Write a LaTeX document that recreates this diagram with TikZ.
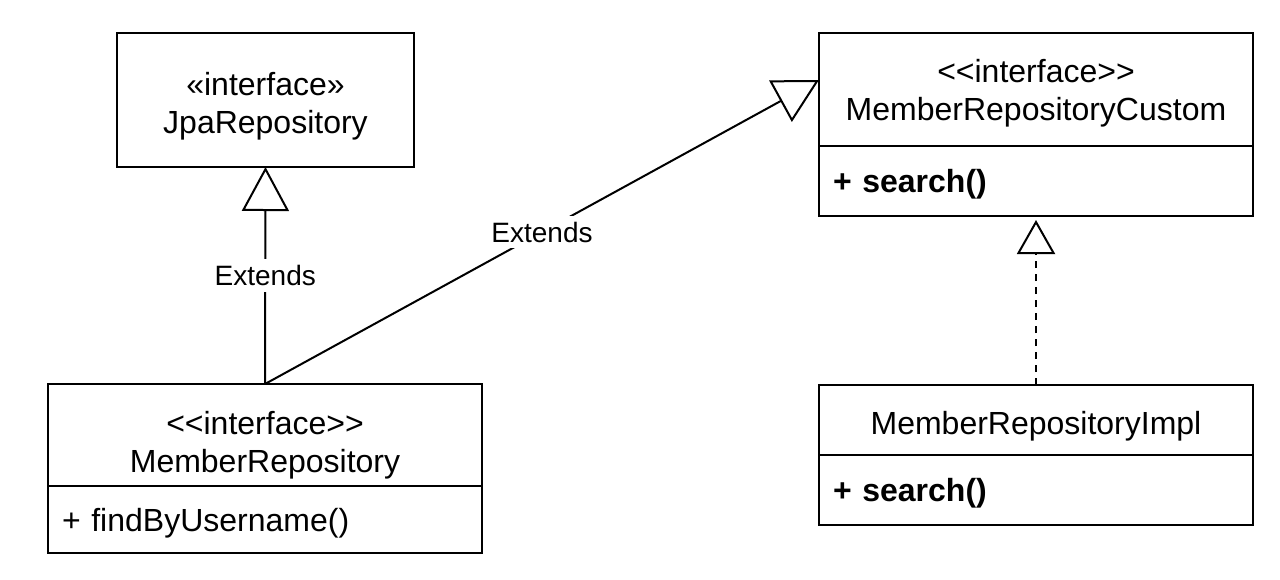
\documentclass[tikz,border=0pt]{standalone}
\usepackage{fontspec}
\setmainfont{Liberation Sans}
\usetikzlibrary{positioning,arrows.meta}
\newcommand{\stereo}{<\kern0pt<interface>\kern0pt>}
\newcommand{\hstrut}[1]{\rule{0pt}{#1}}

\begin{document}
\begin{tikzpicture}[x=0.5pt,y=-0.5pt, line width=1pt,
  font=\fontsize{16}{19}\selectfont,
  classhead/.style={draw, minimum width=217pt, align=center, inner sep=0pt, outer sep=0pt},
  classmeth/.style={draw, text width=203pt, align=left, inner xsep=7pt, inner ysep=0pt, outer sep=0pt},
  inherit/.style={-{Triangle[open,length=22pt,width=23.5pt]}},
  realize/.style={-{Triangle[open,length=17pt,width=19pt]}, dash pattern=on 3.5pt off 3pt},
  lbl/.style={fill=white, inner sep=3pt, font=\fontsize{14}{16}\selectfont}]
\path[use as bounding box, fill=white] (0,0) rectangle (1280,579);
% JpaRepository
\node[classhead, minimum width=148.5pt, minimum height=67pt] (jpa) at (265.5,100) {\hstrut{18pt}«interface»\\JpaRepository};
% MemberRepositoryCustom
\node[classhead, minimum height=56.5pt] (cushead) at (1036,89.5) {\hstrut{15.2pt}\stereo\\MemberRepositoryCustom};
\node[classmeth, minimum height=35pt, below=0pt of cushead] (cusmeth) {\hstrut{15pt}\textbf{+ search()}};
% MemberRepository
\node[classhead, minimum height=51pt] (memhead) at (265,435) {\hstrut{21.5pt}\stereo\\MemberRepository};
\node[classmeth, minimum height=33.5pt, below=0pt of memhead] (memmeth) {\hstrut{15pt}+ findByUsername()};
% MemberRepositoryImpl
\node[classhead, minimum height=35pt] (implhead) at (1036,420) {\hstrut{18.3pt}MemberRepositoryImpl};
\node[classmeth, minimum height=35pt, below=0pt of implhead] (implmeth) {\hstrut{15pt}\textbf{+ search()}};
% relations
\draw[inherit] (memhead.north) -- node[lbl] {Extends} (jpa.south);
\draw[inherit] (memhead.north) -- node[lbl] {Extends} ([yshift=4.75pt]cushead.west);
\draw[realize, shorten >=2pt] (implhead.north) -- (cusmeth.south);
\end{tikzpicture}
\end{document}
